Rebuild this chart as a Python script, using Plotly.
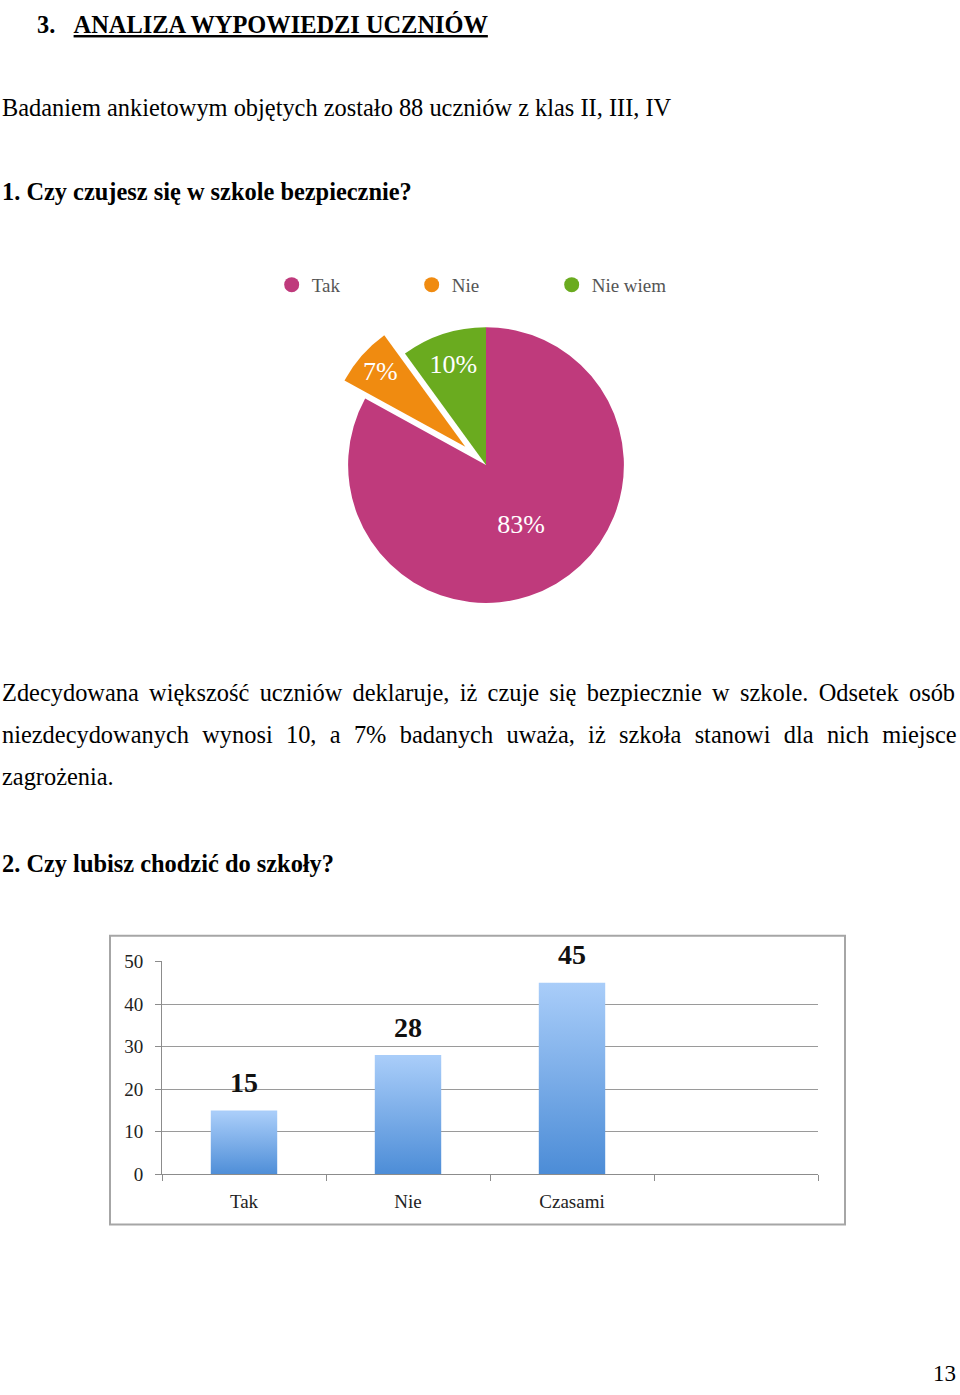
import plotly.graph_objects as go

# page size in pixels
W, H = 960, 1395

# pie: "Czy czujesz się w szkole bezpiecznie?"
pie_labels = ['Tak', 'Nie', 'Nie wiem']
pie_values = [83, 7, 10]
pie_colors = ['#bf3a7c', '#f08b10', '#6aab1f']

# bars: "Czy lubisz chodzić do szkoły?"
bar_categories = ['Tak', 'Nie', 'Czasami']
bar_values = [15, 28, 45]
y_ticks = [0, 10, 20, 30, 40, 50]

SERIF = 'Liberation Serif'
TXT = 24.4      # body text size


def py(y_px):
    """Pixel row from the top of the page -> paper y."""
    return 1 - y_px / H


def text_y(baseline, size=TXT):
    """Paper y of an annotation centre whose text sits on the given baseline."""
    return py(baseline - 0.3375 * size)


fig = go.Figure()

# pie chart with the "Nie" slice pulled out
fig.add_trace(
    go.Pie(
        labels=pie_labels,
        values=pie_values,
        sort=False,
        direction='clockwise',
        rotation=0,
        pull=[0, 0.2, 0],
        marker=dict(colors=pie_colors, line=dict(width=0)),
        texttemplate='%{value}%',
        textposition='inside',
        insidetextorientation='horizontal',
        textfont=dict(family=SERIF, size=26, color='white'),
        domain=dict(x=[318 / W, 654 / W], y=[py(630), py(294)]),
        showlegend=False,
        hoverinfo='label+percent'
    )
)

# legend entries with round markers
for name, colour in zip(pie_labels, pie_colors):
    fig.add_trace(
        go.Scatter(
            x=[None], y=[None],
            mode='markers',
            name=name,
            marker=dict(size=15, color=colour, symbol='circle'),
            hoverinfo='skip'
        )
    )

# gradient bars drawn as filled shapes from the data values
half = 0.2025
for i, v in enumerate(bar_values):
    fig.add_trace(
        go.Scatter(
            x=[i - half, i + half, i + half, i - half, i - half],
            y=[0, 0, v, v, 0],
            mode='lines',
            fill='toself',
            line=dict(width=0),
            fillgradient=dict(
                type='vertical',
                colorscale=[[0, '#4a8bd6'], [1, '#a9cdf9']],
                start=0,
                stop=v
            ),
            showlegend=False,
            name=bar_categories[i],
            hovertemplate=f'{bar_categories[i]}: {v}<extra></extra>'
        )
    )
    fig.add_annotation(
        x=i, y=v, xref='x', yref='y',
        text=f'<b>{v}</b>',
        showarrow=False,
        yshift=28,
        font=dict(family=SERIF, size=28, color='#111111')
    )

fig.update_layout(
    width=W,
    height=H,
    margin=dict(l=0, r=0, t=0, b=0),
    paper_bgcolor='white',
    plot_bgcolor='white',
    legend=dict(
        orientation='h',
        x=0.283,
        y=py(279),
        xanchor='left',
        yanchor='middle',
        entrywidth=95,
        font=dict(family=SERIF, size=19, color='#555555'),
        bgcolor='rgba(0,0,0,0)'
    ),
    xaxis=dict(
        domain=[162 / W, 818 / W],
        range=[-0.5, 3.5],
        tickvals=[0, 1, 2],
        ticktext=bar_categories,
        ticks='',
        ticklabelstandoff=10,
        showgrid=False,
        zeroline=False,
        showline=True,
        linecolor='#8c8c8c',
        linewidth=1,
        tickfont=dict(family=SERIF, size=19, color='#222222'),
        minor=dict(ticks='outside', tick0=0.5, dtick=1, ticklen=6,
                   tickcolor='#8c8c8c', showgrid=False),
        fixedrange=True
    ),
    yaxis=dict(
        domain=[py(1182), py(966)],
        range=[0, 50],
        tickvals=y_ticks,
        ticks='outside',
        ticklen=6,
        tickcolor='#8c8c8c',
        ticklabelstandoff=8,
        showgrid=True,
        gridcolor='#9a9a9a',
        zeroline=False,
        showline=True,
        linecolor='#8c8c8c',
        linewidth=1,
        tickfont=dict(family=SERIF, size=19, color='#222222'),
        fixedrange=True
    ),
    shapes=[
        dict(type='rect', xref='paper', yref='paper',
             x0=110 / W, x1=845 / W, y0=py(1233), y1=py(940),
             line=dict(color='#a6a6a6', width=2))
    ]
)

# page text (x of the left edge, text baseline)
nb = '&nbsp;'
texts = [
    (35, 22.7, '<b>3.' + nb * 3 + '<u>ANALIZA WYPOWIEDZI UCZNIÓW</u></b>'),
    (0, 107, 'Badaniem ankietowym objętych zostało 88 uczniów z klas II, III, IV'),
    (0, 193, '<b>1. Czy czujesz się w szkole bezpiecznie?</b>'),
    (0, 875, '<b>2. Czy lubisz chodzić do szkoły?</b>'),
]
for x, base, t in texts:
    fig.add_annotation(
        x=x / W, y=text_y(base), xref='paper', yref='paper',
        xanchor='left', yanchor='middle', showarrow=False,
        text=t, font=dict(family=SERIF, size=TXT, color='black')
    )

# justified paragraph: word spacing stretches each full line to the margin
para_lines = [
    'Zdecydowana większość uczniów deklaruje, iż czuje się bezpiecznie w szkole. Odsetek osób',
    'niezdecydowanych wynosi 10, a 7% badanych uważa, iż szkoła stanowi dla nich miejsce',
    'zagrożenia.',
]
para_spacing = [4.2, 7.2, 0]
para_base = [701, 743.5, 786]
for line, ws, base in zip(para_lines, para_spacing, para_base):
    fig.add_annotation(
        x=0, y=text_y(base), xref='paper', yref='paper',
        xanchor='left', yanchor='middle', showarrow=False,
        text=f'<span style="word-spacing:{ws}px">{line}</span>',
        font=dict(family=SERIF, size=TXT, color='black')
    )

# page number
fig.add_annotation(
    x=958 / W, y=text_y(1392, 23), xref='paper', yref='paper',
    xanchor='right', yanchor='middle', showarrow=False,
    text='13', font=dict(family=SERIF, size=23, color='black')
)

fig.write_html('out.html', post_script="document.body.style.margin='0';",
               config={'displayModeBar': False})
